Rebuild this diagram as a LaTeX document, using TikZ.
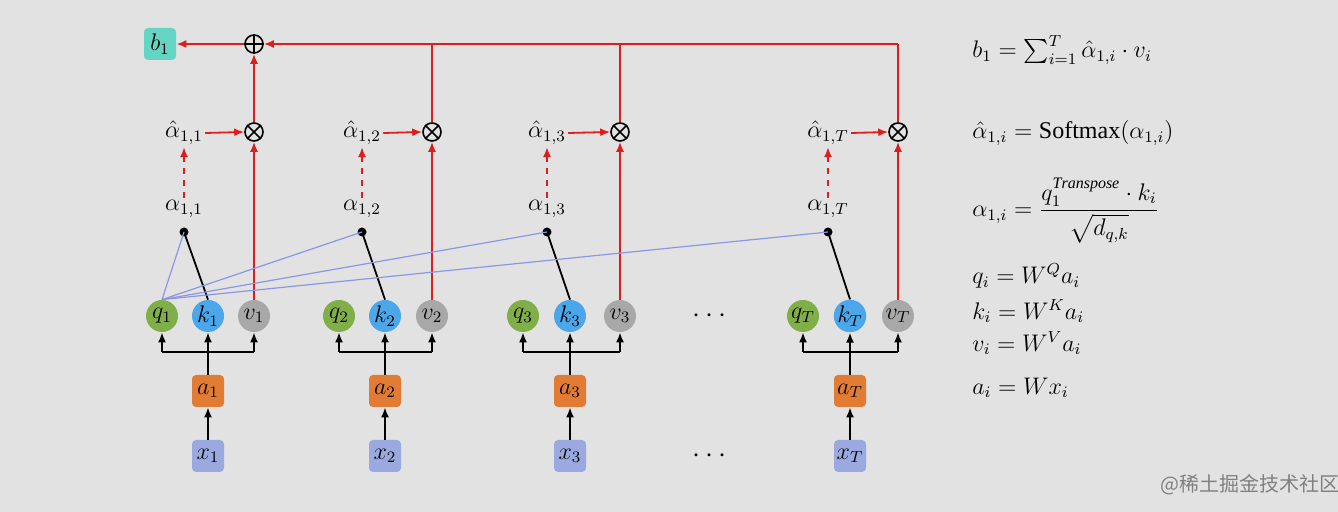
\documentclass[tikz,border=0pt]{standalone}
\usepackage{amsmath}
\usepackage{fontspec}
\setmainfont{Liberation Serif}
\newfontfamily\cjk{Noto Sans CJK SC}
\usetikzlibrary{arrows.meta}
\begin{document}
\begin{tikzpicture}[x=0.5pt,y=-0.5pt,
  circ/.style={circle,minimum size=16pt,inner sep=0pt,font=\large},
  box/.style={rectangle,rounded corners=2pt,minimum size=16pt,inner sep=0pt,font=\large},
  blk/.style={-{Latex[length=5pt,width=4pt]},black,line width=0.9pt},
  red/.style={-{Latex[length=5pt,width=4pt]},draw={rgb,255:red,220;green,30;blue,30},line width=0.9pt},
  redl/.style={draw={rgb,255:red,220;green,30;blue,30},line width=0.9pt},
  op/.style={circle,draw,line width=0.8pt,minimum size=9pt,inner sep=0pt},
  lbl/.style={font=\large,inner sep=1pt}]
\definecolor{bg}{RGB}{226,226,226}
\definecolor{cq}{RGB}{128,174,72}
\definecolor{ck}{RGB}{76,166,234}
\definecolor{cv}{RGB}{168,168,168}
\definecolor{ca}{RGB}{226,124,52}
\definecolor{cx}{RGB}{154,170,224}
\definecolor{cb}{RGB}{100,212,196}
\definecolor{cbl}{RGB}{140,150,230}
\fill[bg] (0,0) rectangle (1338,512);
\useasboundingbox (0,0) rectangle (1338,512);
% b1 and oplus
\node[box,fill=cb] (b) at (160,44) {$b_1$};
\node[op] (plus) at (254,44) {};
\draw[line width=0.8pt] (plus.north)--(plus.south) (plus.west)--(plus.east);
\foreach \i/\q/\k/\v/\d/\s in {1/162/208/254/184/1, 2/339/385/432/362/2, 3/523/570/620/547/3, 4/803/850/898/828/T}{
  \node[circ,fill=cq] (q\i) at (\q,316) {$q_{\s}$};
  \node[circ,fill=ck] (k\i) at (\k,316) {$k_{\s}$};
  \node[circ,fill=cv] (v\i) at (\v,316) {$v_{\s}$};
  \node[box,fill=ca] (a\i) at (\k,391) {$a_{\s}$};
  \node[box,fill=cx] (x\i) at (\k,456) {$x_{\s}$};
  \draw[blk] (x\i)--(a\i);
  \coordinate (m\i) at (\k,352);
  \draw[black,line width=0.9pt] (a\i.north)--(m\i);
  \draw[black,line width=0.9pt] (\q,352)--(\v,352);
  \draw[blk] (\q,352)--(q\i);
  \draw[blk] (m\i)--(k\i);
  \draw[blk] (\v,352)--(v\i);
  \fill (\d,232) circle (4.5) coordinate (dot\i);
  \draw[black,line width=0.9pt] (dot\i)--(k\i.north);
  \node[lbl] (al\i) at (\d,209) {$\alpha_{1,\s}$};
  \node[lbl] (ah\i) at (\d,133) {$\hat\alpha_{1,\s}$};
  \draw[red,dashed] (al\i.north)--(ah\i.south);
  \node[op] (t\i) at (\v,132) {};
  \draw[line width=0.8pt] (t\i.north west)--(t\i.south east) (t\i.north east)--(t\i.south west);
  \draw[red] (ah\i.east)--(t\i.west);
  \draw[red] (v\i.north)--(t\i.south);
  \draw[cbl,line width=0.6pt] (q1.north)--(dot\i);
}
\draw[red] (t1.north)--(plus.south);
\draw[redl] (t4.north)--(898,44);
\draw[red] (898,44)--(plus.east);
\draw[redl] (t2.north)--(432,44);
\draw[redl] (t3.north)--(620,44);
\draw[red] (plus.west)--(b.east);
\node[font=\Large] at (712,316) {$\cdots$};
\node[font=\Large] at (712,456) {$\cdots$};
% formulas
\begin{scope}[every node/.style={anchor=west,font=\large,inner sep=0pt}]
\node at (972,50) {$b_1=\sum_{i=1}^{T}\hat\alpha_{1,i}\cdot v_i$};
\node at (972,133) {$\hat\alpha_{1,i}=\mathrm{Softmax}(\alpha_{1,i})$};
\node at (972,211) {$\alpha_{1,i}=\dfrac{q_1^{\mathit{Transpose}}\cdot k_i}{\sqrt{d_{q,k}}}$};
\node at (972,276) {$q_i=W^{Q}a_i$};
\node at (972,311) {$k_i=W^{K}a_i$};
\node at (972,343) {$v_i=W^{V}a_i$};
\node at (972,388) {$a_i=Wx_i$};
\node[font=\cjk\normalsize,text=gray] at (1160,485) {@稀土掘金技术社区};
\end{scope}
\end{tikzpicture}
\end{document}
